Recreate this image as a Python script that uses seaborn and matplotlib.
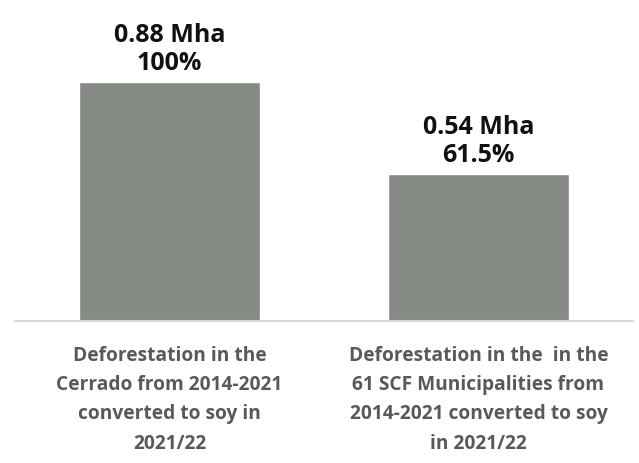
import matplotlib
matplotlib.use("Agg")
import matplotlib.pyplot as plt
import seaborn as sns
import pandas as pd

# Chart values
categories = [
    "Deforestation in the\nCerrado from 2014-2021\nconverted to soy in\n2021/22",
    "Deforestation in the  in the\n61 SCF Municipalities from\n2014-2021 converted to soy\nin 2021/22",
]
area_mha = [0.88, 0.54]
share_labels = ["100%", "61.5%"]

df = pd.DataFrame({"category": categories, "area": area_mha})

sns.set_theme(style="white")
plt.rcParams["font.family"] = ["Open Sans", "DejaVu Sans"]

fig = plt.figure(figsize=(6.39, 4.64), dpi=100)
ax = fig.add_axes([15 / 639, 142 / 464, 618 / 639, 322 / 464])

sns.barplot(data=df, x="category", y="area", color="#858b84", width=0.585,
            saturation=1, ax=ax)

# value labels above the bars
labels = [f"{v:.2f} Mha\n{s}" for v, s in zip(area_mha, share_labels)]
ax.bar_label(ax.containers[0], labels=labels, padding=5, fontsize=18,
             fontweight="bold", color="#111111", linespacing=1.18)

ax.set_xlim(-0.5, 1.5)
ax.set_ylim(0, 1.186)
ax.set_xlabel("")
ax.set_ylabel("")
ax.set_yticks([])
ax.tick_params(axis="x", length=0, pad=17)
for lbl in ax.get_xticklabels():
    lbl.set_fontsize(13.8)
    lbl.set_fontweight("bold")
    lbl.set_color("#595959")
    lbl.set_linespacing(1.62)

for side in ["top", "left", "right"]:
    ax.spines[side].set_visible(False)
ax.spines["bottom"].set_color("#d9d9d9")
ax.spines["bottom"].set_linewidth(1.5)

fig.savefig("out.png", dpi=100)
